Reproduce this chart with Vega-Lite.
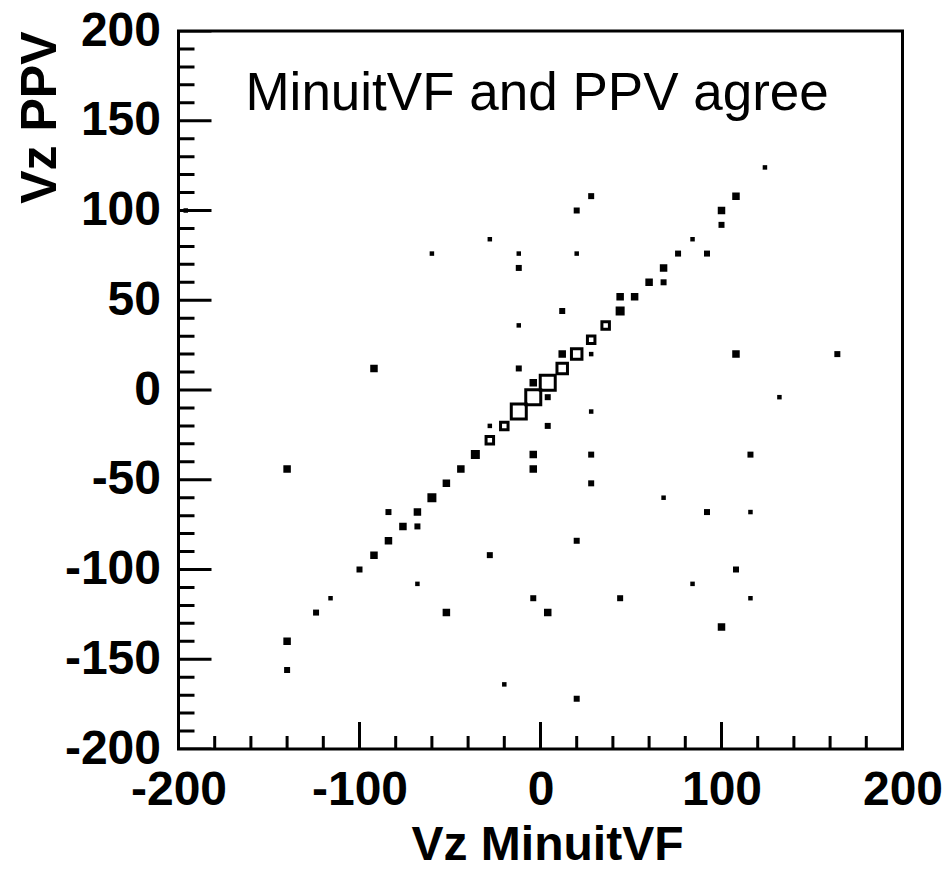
{
  "$schema": "https://vega.github.io/schema/vega-lite/v6.json",
  "autosize": "none",
  "padding": {"left": 178.5, "top": 31, "right": 42.5, "bottom": 122},
  "width": 724,
  "height": 718,
  "background": "white",
  "config": {
    "view": {"stroke": "black", "strokeWidth": 3},
    "font": "Liberation Sans"
  },
  "datasets": {
    "pts": [
      {"x": -140, "y": -140, "n": 3}, {"x": -124, "y": -124, "n": 2}, {"x": -116, "y": -116, "n": 1},
      {"x": -100, "y": -100, "n": 2}, {"x": -92, "y": -92, "n": 3}, {"x": -84, "y": -84, "n": 3},
      {"x": -76, "y": -76, "n": 3}, {"x": -68, "y": -68, "n": 3}, {"x": -60, "y": -60, "n": 4},
      {"x": -52, "y": -52, "n": 3}, {"x": -44, "y": -44, "n": 3}, {"x": -36, "y": -36, "n": 4},
      {"x": -28, "y": -28, "n": 5}, {"x": -20, "y": -20, "n": 5}, {"x": -12, "y": -12, "n": 10},
      {"x": -4, "y": -4, "n": 10}, {"x": 4, "y": 4, "n": 10}, {"x": 12, "y": 12, "n": 7},
      {"x": 20, "y": 20, "n": 7}, {"x": 28, "y": 28, "n": 5}, {"x": 36, "y": 36, "n": 5},
      {"x": 44, "y": 44, "n": 4}, {"x": 44, "y": 52, "n": 3}, {"x": 52, "y": 52, "n": 3},
      {"x": 60, "y": 60, "n": 3}, {"x": 68, "y": 68, "n": 3}, {"x": 76, "y": 76, "n": 2},
      {"x": 84, "y": 84, "n": 1}, {"x": 100, "y": 100, "n": 3}, {"x": 100, "y": 92, "n": 2},
      {"x": 108, "y": 108, "n": 3}, {"x": 124, "y": 124, "n": 1},
      {"x": -196, "y": 100, "n": 1}, {"x": -140, "y": -44, "n": 3}, {"x": -140, "y": -156, "n": 2},
      {"x": -92, "y": 12, "n": 3}, {"x": -84, "y": -68, "n": 2}, {"x": -68, "y": -76, "n": 2},
      {"x": -68, "y": -108, "n": 1}, {"x": -60, "y": 76, "n": 1}, {"x": -52, "y": -124, "n": 3},
      {"x": -28, "y": 84, "n": 1}, {"x": -28, "y": -20, "n": 1}, {"x": -28, "y": -92, "n": 2},
      {"x": -20, "y": -164, "n": 1}, {"x": -12, "y": 76, "n": 1}, {"x": -12, "y": 68, "n": 2},
      {"x": -12, "y": 36, "n": 1}, {"x": -12, "y": 12, "n": 2}, {"x": -4, "y": 4, "n": 3},
      {"x": -4, "y": -36, "n": 3}, {"x": -4, "y": -44, "n": 3}, {"x": -4, "y": -116, "n": 2},
      {"x": 4, "y": -4, "n": 2}, {"x": 4, "y": -20, "n": 2}, {"x": 4, "y": -124, "n": 3},
      {"x": 12, "y": 44, "n": 2}, {"x": 12, "y": 20, "n": 3}, {"x": 20, "y": 100, "n": 2},
      {"x": 20, "y": 76, "n": 1}, {"x": 20, "y": -84, "n": 2}, {"x": 20, "y": -172, "n": 2},
      {"x": 28, "y": 108, "n": 2}, {"x": 28, "y": 20, "n": 1}, {"x": 28, "y": -12, "n": 1},
      {"x": 28, "y": -36, "n": 2}, {"x": 28, "y": -52, "n": 2}, {"x": 68, "y": 60, "n": 2},
      {"x": 68, "y": -60, "n": 1}, {"x": 84, "y": -108, "n": 1}, {"x": 92, "y": 76, "n": 2},
      {"x": 92, "y": -68, "n": 2}, {"x": 100, "y": -132, "n": 3}, {"x": 108, "y": 20, "n": 3},
      {"x": 108, "y": -100, "n": 2}, {"x": 116, "y": -36, "n": 2}, {"x": 116, "y": -68, "n": 1},
      {"x": 116, "y": -116, "n": 1}, {"x": 132, "y": -4, "n": 1}, {"x": 164, "y": 20, "n": 2},
      {"x": 44, "y": -116, "n": 2}
    ],
    "xticks": [
      {"v": -200, "kind": "major"}, {"v": -100, "kind": "major"}, {"v": 0, "kind": "major"}, {"v": 100, "kind": "major"}, {"v": 200, "kind": "major"},
      {"v": -180, "kind": "minor"}, {"v": -160, "kind": "minor"}, {"v": -140, "kind": "minor"}, {"v": -120, "kind": "minor"},
      {"v": -80, "kind": "minor"}, {"v": -60, "kind": "minor"}, {"v": -40, "kind": "minor"}, {"v": -20, "kind": "minor"},
      {"v": 20, "kind": "minor"}, {"v": 40, "kind": "minor"}, {"v": 60, "kind": "minor"}, {"v": 80, "kind": "minor"},
      {"v": 120, "kind": "minor"}, {"v": 140, "kind": "minor"}, {"v": 160, "kind": "minor"}, {"v": 180, "kind": "minor"}
    ],
    "yticks": [
      {"v": -200, "kind": "major"}, {"v": -150, "kind": "major"}, {"v": -100, "kind": "major"}, {"v": -50, "kind": "major"}, {"v": 0, "kind": "major"},
      {"v": 50, "kind": "major"}, {"v": 100, "kind": "major"}, {"v": 150, "kind": "major"}, {"v": 200, "kind": "major"},
      {"v": -190, "kind": "minor"}, {"v": -180, "kind": "minor"}, {"v": -170, "kind": "minor"}, {"v": -160, "kind": "minor"},
      {"v": -140, "kind": "minor"}, {"v": -130, "kind": "minor"}, {"v": -120, "kind": "minor"}, {"v": -110, "kind": "minor"},
      {"v": -90, "kind": "minor"}, {"v": -80, "kind": "minor"}, {"v": -70, "kind": "minor"}, {"v": -60, "kind": "minor"},
      {"v": -40, "kind": "minor"}, {"v": -30, "kind": "minor"}, {"v": -20, "kind": "minor"}, {"v": -10, "kind": "minor"},
      {"v": 10, "kind": "minor"}, {"v": 20, "kind": "minor"}, {"v": 30, "kind": "minor"}, {"v": 40, "kind": "minor"},
      {"v": 60, "kind": "minor"}, {"v": 70, "kind": "minor"}, {"v": 80, "kind": "minor"}, {"v": 90, "kind": "minor"},
      {"v": 110, "kind": "minor"}, {"v": 120, "kind": "minor"}, {"v": 130, "kind": "minor"}, {"v": 140, "kind": "minor"},
      {"v": 160, "kind": "minor"}, {"v": 170, "kind": "minor"}, {"v": 180, "kind": "minor"}, {"v": 190, "kind": "minor"}
    ]
  },
  "layer": [
    {
      "data": {"name": "pts"},
      "mark": {"type": "point", "shape": "square", "filled": false, "stroke": "black", "strokeWidth": 3, "opacity": 1},
      "encoding": {
        "x": {
          "field": "x", "type": "quantitative",
          "scale": {"domain": [-200, 200], "nice": false, "zero": false},
          "axis": {
            "values": [-200, -100, 0, 100, 200],
            "labelExpr": "toString(datum.value)",
            "ticks": false, "domain": false, "grid": false,
            "labelFont": "Liberation Sans", "labelFontWeight": "bold", "labelFontSize": 48, "labelColor": "black",
            "labelPadding": 17, "labelFlush": false, "labelOverlap": false, "labelBound": false,
            "title": "Vz MinuitVF", "titleFont": "Liberation Sans", "titleFontWeight": "bold", "titleFontSize": 48, "titleColor": "black",
            "titleX": 368.5, "titleY": 110, "titleAlign": "center", "titleBaseline": "alphabetic", "titleAngle": 0
          }
        },
        "y": {
          "field": "y", "type": "quantitative",
          "scale": {"domain": [-200, 200], "nice": false, "zero": false},
          "axis": {
            "values": [-200, -150, -100, -50, 0, 50, 100, 150, 200],
            "labelExpr": "toString(datum.value)",
            "ticks": false, "domain": false, "grid": false,
            "labelFont": "Liberation Sans", "labelFontWeight": "bold", "labelFontSize": 48, "labelColor": "black",
            "labelPadding": 18, "labelFlush": false, "labelOverlap": false, "labelBound": false,
            "title": "Vz PPV", "titleFont": "Liberation Sans", "titleFontWeight": "bold", "titleFontSize": 50, "titleColor": "black",
            "titleX": -123.5, "titleY": 0, "titleAngle": -90, "titleAlign": "right", "titleBaseline": "alphabetic"
          }
        },
        "size": {
          "field": "n", "type": "quantitative",
          "scale": {"type": "pow", "exponent": 2, "domain": [0, 10], "range": [0, 225]},
          "legend": null
        },
        "fill": {
          "condition": {"test": "datum.n <= 4", "value": "black"},
          "value": "transparent"
        }
      }
    },
    {
      "data": {"name": "xticks"},
      "transform": [{"filter": "datum.kind === 'major'"}],
      "mark": {"type": "tick", "orient": "vertical", "size": 54, "thickness": 3, "color": "black", "opacity": 1, "clip": true},
      "encoding": {
        "x": {"field": "v", "type": "quantitative"},
        "y": {"datum": -200, "type": "quantitative"}
      }
    },
    {
      "data": {"name": "xticks"},
      "transform": [{"filter": "datum.kind === 'minor'"}],
      "mark": {"type": "tick", "orient": "vertical", "size": 26, "thickness": 3, "color": "black", "opacity": 1, "clip": true},
      "encoding": {
        "x": {"field": "v", "type": "quantitative"},
        "y": {"datum": -200, "type": "quantitative"}
      }
    },
    {
      "data": {"name": "yticks"},
      "transform": [{"filter": "datum.kind === 'major'"}],
      "mark": {"type": "tick", "orient": "horizontal", "size": 66, "thickness": 3, "color": "black", "opacity": 1, "clip": true},
      "encoding": {
        "y": {"field": "v", "type": "quantitative"},
        "x": {"datum": -200, "type": "quantitative"}
      }
    },
    {
      "data": {"name": "yticks"},
      "transform": [{"filter": "datum.kind === 'minor'"}],
      "mark": {"type": "tick", "orient": "horizontal", "size": 32, "thickness": 3, "color": "black", "opacity": 1, "clip": true},
      "encoding": {
        "y": {"field": "v", "type": "quantitative"},
        "x": {"datum": -200, "type": "quantitative"}
      }
    },
    {
      "data": {"values": [{"label": "MinuitVF and PPV agree"}]},
      "mark": {"type": "text", "align": "left", "baseline": "alphabetic", "font": "Liberation Sans", "fontSize": 53, "color": "black"},
      "encoding": {
        "text": {"field": "label"},
        "x": {"datum": -163, "type": "quantitative"},
        "y": {"datum": 156, "type": "quantitative"}
      }
    }
  ]
}
